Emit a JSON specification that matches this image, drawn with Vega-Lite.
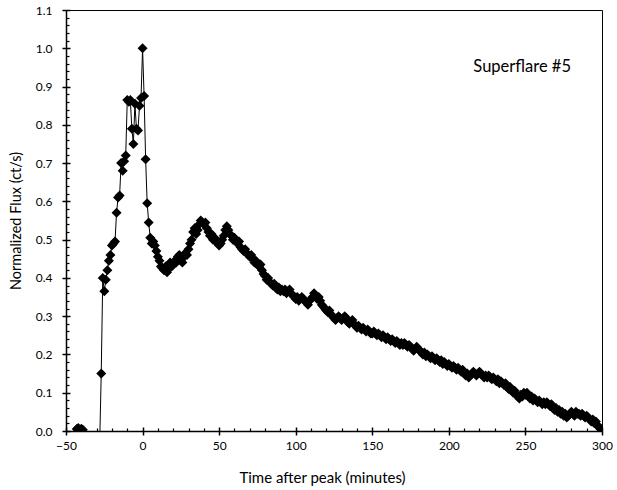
{
"$schema": "https://vega.github.io/schema/vega-lite/v6.json",
"width": 536, "height": 421,
"autosize": {"type": "none"},
"padding": {"left": 66, "top": 10, "right": 15, "bottom": 59},
"background": "white",
"config": {"view": {"stroke": "black", "strokeWidth": 1}, "font": "Lato"},
"datasets": {
"flux": [
{"t":-43,"f":0.005},{"t":-42,"f":0.008},{"t":-41,"f":0.0},{"t":-40,"f":0.006},{"t":-39,"f":0.003},
{"t":-38,"f":-0.02},{"t":-35,"f":-0.03},{"t":-31,"f":-0.02},{"t":-28,"f":-0.03},
{"t":-27,"f":0.15},{"t":-26,"f":0.40},{"t":-25,"f":0.365},{"t":-24,"f":0.395},{"t":-23,"f":0.42},{"t":-22,"f":0.445},{"t":-21,"f":0.46},{"t":-20,"f":0.485},{"t":-19,"f":0.49},{"t":-18,"f":0.495},{"t":-17,"f":0.57},{"t":-16,"f":0.61},{"t":-15,"f":0.615},{"t":-14,"f":0.70},{"t":-13,"f":0.68},{"t":-12,"f":0.705},{"t":-11,"f":0.72},{"t":-10,"f":0.865},{"t":-9,"f":0.86},{"t":-8,"f":0.865},{"t":-7,"f":0.79},{"t":-6,"f":0.75},{"t":-5,"f":0.855},{"t":-4,"f":0.79},{"t":-3,"f":0.785},{"t":-2,"f":0.85},{"t":-1,"f":0.87},{"t":0,"f":1.0},{"t":1,"f":0.875},{"t":2,"f":0.71},{"t":3,"f":0.595},{"t":4,"f":0.545},
{"t":5,"f":0.505},{"t":6,"f":0.49},{"t":7,"f":0.495},{"t":8,"f":0.485},{"t":9,"f":0.47},{"t":10,"f":0.455},{"t":11,"f":0.445},{"t":12,"f":0.43},{"t":13,"f":0.425},{"t":14,"f":0.42},{"t":15,"f":0.43},{"t":16,"f":0.415},{"t":17,"f":0.425},{"t":18,"f":0.44},{"t":19,"f":0.43},{"t":20,"f":0.435},{"t":21,"f":0.445},{"t":22,"f":0.44},{"t":23,"f":0.455},{"t":24,"f":0.46},{"t":25,"f":0.445},{"t":26,"f":0.44},{"t":27,"f":0.455},{"t":28,"f":0.465},{"t":29,"f":0.46},{"t":30,"f":0.475},
{"t":31,"f":0.49},{"t":32,"f":0.50},{"t":33,"f":0.52},{"t":34,"f":0.53},{"t":35,"f":0.515},{"t":36,"f":0.525},{"t":37,"f":0.54},{"t":38,"f":0.55},{"t":39,"f":0.545},{"t":40,"f":0.54},{"t":41,"f":0.545},{"t":42,"f":0.53},{"t":43,"f":0.52},{"t":44,"f":0.51},{"t":45,"f":0.515},{"t":46,"f":0.50},{"t":47,"f":0.505},{"t":48,"f":0.495},{"t":49,"f":0.49},{"t":50,"f":0.485},
{"t":51,"f":0.49},{"t":52,"f":0.50},{"t":53,"f":0.51},{"t":54,"f":0.525},{"t":55,"f":0.535},{"t":56,"f":0.525},{"t":57,"f":0.515},{"t":58,"f":0.51},{"t":59,"f":0.50},{"t":60,"f":0.505},{"t":61,"f":0.495},{"t":62,"f":0.49},{"t":63,"f":0.495},{"t":64,"f":0.48},{"t":65,"f":0.475},{"t":66,"f":0.47},{"t":67,"f":0.475},{"t":68,"f":0.465},{"t":69,"f":0.46},{"t":70,"f":0.455},
{"t":71,"f":0.46},{"t":72,"f":0.45},{"t":73,"f":0.44},{"t":74,"f":0.445},{"t":75,"f":0.435},{"t":76,"f":0.43},{"t":77,"f":0.435},{"t":78,"f":0.42},{"t":79,"f":0.41},{"t":80,"f":0.405},{"t":81,"f":0.395},{"t":82,"f":0.40},{"t":83,"f":0.39},{"t":84,"f":0.385},{"t":85,"f":0.38},{"t":86,"f":0.385},{"t":87,"f":0.375},{"t":88,"f":0.37},{"t":89,"f":0.375},{"t":90,"f":0.365},
{"t":91,"f":0.37},{"t":92,"f":0.365},{"t":93,"f":0.37},{"t":94,"f":0.36},{"t":95,"f":0.365},{"t":96,"f":0.37},{"t":97,"f":0.36},{"t":98,"f":0.355},{"t":99,"f":0.35},{"t":100,"f":0.345},{"t":101,"f":0.35},{"t":102,"f":0.34},{"t":103,"f":0.345},{"t":104,"f":0.35},{"t":105,"f":0.345},{"t":106,"f":0.34},{"t":107,"f":0.335},{"t":108,"f":0.33},{"t":109,"f":0.34},{"t":110,"f":0.345},
{"t":111,"f":0.35},{"t":112,"f":0.36},{"t":113,"f":0.355},{"t":114,"f":0.345},{"t":115,"f":0.35},{"t":116,"f":0.34},{"t":117,"f":0.33},{"t":118,"f":0.325},{"t":119,"f":0.32},{"t":120,"f":0.315},{"t":121,"f":0.31},{"t":122,"f":0.315},{"t":123,"f":0.305},{"t":124,"f":0.30},{"t":125,"f":0.295},{"t":126,"f":0.29},{"t":127,"f":0.295},{"t":128,"f":0.30},{"t":129,"f":0.295},{"t":130,"f":0.29},
{"t":131,"f":0.295},{"t":132,"f":0.30},{"t":133,"f":0.295},{"t":134,"f":0.285},{"t":135,"f":0.28},{"t":136,"f":0.285},{"t":137,"f":0.29},{"t":138,"f":0.28},{"t":139,"f":0.275},{"t":140,"f":0.27},{"t":141,"f":0.275},{"t":142,"f":0.27},{"t":143,"f":0.265},{"t":144,"f":0.27},{"t":145,"f":0.265},{"t":146,"f":0.26},{"t":147,"f":0.265},{"t":148,"f":0.26},{"t":149,"f":0.255},{"t":150,"f":0.255},
{"t":151,"f":0.26},{"t":152,"f":0.255},{"t":153,"f":0.25},{"t":154,"f":0.255},{"t":155,"f":0.25},{"t":156,"f":0.245},{"t":157,"f":0.25},{"t":158,"f":0.245},{"t":159,"f":0.24},{"t":160,"f":0.245},{"t":161,"f":0.24},{"t":162,"f":0.235},{"t":163,"f":0.24},{"t":164,"f":0.235},{"t":165,"f":0.23},{"t":166,"f":0.235},{"t":167,"f":0.23},{"t":168,"f":0.225},{"t":169,"f":0.23},{"t":170,"f":0.225},
{"t":171,"f":0.23},{"t":172,"f":0.225},{"t":173,"f":0.22},{"t":174,"f":0.225},{"t":175,"f":0.22},{"t":176,"f":0.215},{"t":177,"f":0.21},{"t":178,"f":0.215},{"t":179,"f":0.22},{"t":180,"f":0.215},{"t":181,"f":0.21},{"t":182,"f":0.205},{"t":183,"f":0.20},{"t":184,"f":0.205},{"t":185,"f":0.195},{"t":186,"f":0.20},{"t":187,"f":0.195},{"t":188,"f":0.19},{"t":189,"f":0.195},{"t":190,"f":0.19},
{"t":191,"f":0.185},{"t":192,"f":0.19},{"t":193,"f":0.185},{"t":194,"f":0.18},{"t":195,"f":0.185},{"t":196,"f":0.175},{"t":197,"f":0.18},{"t":198,"f":0.175},{"t":199,"f":0.17},{"t":200,"f":0.175},{"t":201,"f":0.17},{"t":202,"f":0.165},{"t":203,"f":0.17},{"t":204,"f":0.165},{"t":205,"f":0.16},{"t":206,"f":0.165},{"t":207,"f":0.16},{"t":208,"f":0.155},{"t":209,"f":0.16},{"t":210,"f":0.15},
{"t":211,"f":0.145},{"t":212,"f":0.15},{"t":213,"f":0.14},{"t":214,"f":0.145},{"t":215,"f":0.15},{"t":216,"f":0.155},{"t":217,"f":0.15},{"t":218,"f":0.145},{"t":219,"f":0.15},{"t":220,"f":0.155},{"t":221,"f":0.15},{"t":222,"f":0.145},{"t":223,"f":0.14},{"t":224,"f":0.145},{"t":225,"f":0.14},{"t":226,"f":0.145},{"t":227,"f":0.14},{"t":228,"f":0.135},{"t":229,"f":0.14},{"t":230,"f":0.135},
{"t":231,"f":0.13},{"t":232,"f":0.135},{"t":233,"f":0.125},{"t":234,"f":0.13},{"t":235,"f":0.125},{"t":236,"f":0.12},{"t":237,"f":0.125},{"t":238,"f":0.115},{"t":239,"f":0.11},{"t":240,"f":0.115},{"t":241,"f":0.105},{"t":242,"f":0.10},{"t":243,"f":0.105},{"t":244,"f":0.095},{"t":245,"f":0.09},{"t":246,"f":0.085},{"t":247,"f":0.095},{"t":248,"f":0.09},{"t":249,"f":0.10},{"t":250,"f":0.095},
{"t":251,"f":0.10},{"t":252,"f":0.09},{"t":253,"f":0.085},{"t":254,"f":0.09},{"t":255,"f":0.08},{"t":256,"f":0.085},{"t":257,"f":0.08},{"t":258,"f":0.075},{"t":259,"f":0.08},{"t":260,"f":0.075},{"t":261,"f":0.07},{"t":262,"f":0.075},{"t":263,"f":0.07},{"t":264,"f":0.075},{"t":265,"f":0.07},{"t":266,"f":0.065},{"t":267,"f":0.07},{"t":268,"f":0.06},{"t":269,"f":0.055},{"t":270,"f":0.06},
{"t":271,"f":0.05},{"t":272,"f":0.055},{"t":273,"f":0.045},{"t":274,"f":0.05},{"t":275,"f":0.04},{"t":276,"f":0.045},{"t":277,"f":0.035},{"t":278,"f":0.04},{"t":279,"f":0.045},{"t":280,"f":0.05},{"t":281,"f":0.045},{"t":282,"f":0.04},{"t":283,"f":0.05},{"t":284,"f":0.045},{"t":285,"f":0.045},{"t":286,"f":0.04},{"t":287,"f":0.045},{"t":288,"f":0.04},{"t":289,"f":0.035},{"t":290,"f":0.04},
{"t":291,"f":0.035},{"t":292,"f":0.03},{"t":293,"f":0.025},{"t":294,"f":0.03},{"t":295,"f":0.02},{"t":296,"f":0.025},{"t":297,"f":0.015},{"t":298,"f":0.01},{"t":299,"f":0.005}
],
"note": [{"t": 216, "f": 0.95, "label": "Superflare #5"}]
},
"layer": [
{
"data": {"name": "flux"},
"mark": {"type": "line", "color": "black", "strokeWidth": 1, "clip": true},
"encoding": {
"x": {"field": "t", "type": "quantitative", "scale": {"domain": [-50, 300], "nice": false, "zero": false},
"axis": {"orient": "bottom", "values": [-50,0,50,100,150,200,250,300], "format": "d", "title": "Time after peak (minutes)", "titleX": 256, "grid": false, "domainColor": "black", "domainWidth": 1.5, "tickColor": "black", "tickWidth": 1.5, "tickSize": 4, "labelPadding": 5, "labelFlush": false, "labelOverlap": false, "labelFont": "Lato", "labelFontSize": 12, "labelColor": "black", "titleFont": "Lato", "titleFontSize": 15, "titleFontWeight": "normal", "titleColor": "black", "titlePadding": 19}},
"y": {"field": "f", "type": "quantitative", "scale": {"domain": [0, 1.1], "nice": false, "zero": false},
"axis": {"orient": "left", "values": [0,0.1,0.2,0.3,0.4,0.5,0.6,0.7,0.8,0.9,1.0,1.1], "format": ".1f", "title": "Normalized Flux (ct/s)", "grid": false, "domainColor": "black", "domainWidth": 1.5, "tickColor": "black", "tickWidth": 1.5, "tickSize": 4, "labelPadding": 10, "labelFlush": false, "labelOverlap": false, "labelFont": "Lato", "labelFontSize": 12, "labelColor": "black", "titleFont": "Lato", "titleFontSize": 14.5, "titleFontWeight": "normal", "titleColor": "black", "titlePadding": 12}}
}
},
{
"data": {"name": "flux"},
"mark": {"type": "point", "shape": "diamond", "filled": true, "color": "black", "opacity": 1, "size": 100, "clip": true},
"encoding": {
"x": {"field": "t", "type": "quantitative",
"axis": {"orient": "bottom", "values": [-50,0,50,100,150,200,250,300], "labels": false, "domain": false, "title": null, "grid": false, "tickColor": "black", "tickWidth": 1.5, "tickSize": -4}},
"y": {"field": "f", "type": "quantitative",
"axis": {"orient": "left", "values": [0,0.1,0.2,0.3,0.4,0.5,0.6,0.7,0.8,0.9,1.0,1.1], "labels": false, "domain": false, "title": null, "grid": false, "tickColor": "black", "tickWidth": 1.5, "tickSize": -4}}
}
},
{
"data": {"name": "note"},
"mark": {"type": "text", "align": "left", "baseline": "middle", "font": "Lato", "fontSize": 16.5, "color": "black"},
"encoding": {
"x": {"field": "t", "type": "quantitative",
"axis": {"orient": "bottom", "values": [-40,-30,-20,-10,10,20,30,40,60,70,80,90,110,120,130,140,160,170,180,190,210,220,230,240,260,270,280,290], "labels": false, "domain": false, "title": null, "grid": false, "tickColor": "black", "tickWidth": 1.2, "tickSize": -3}},
"y": {"field": "f", "type": "quantitative",
"axis": {"orient": "left", "values": [0.02,0.04,0.06,0.08,0.12,0.14,0.16,0.18,0.22,0.24,0.26,0.28,0.32,0.34,0.36,0.38,0.42,0.44,0.46,0.48,0.52,0.54,0.56,0.58,0.62,0.64,0.66,0.68,0.72,0.74,0.76,0.78,0.82,0.84,0.86,0.88,0.92,0.94,0.96,0.98,1.02,1.04,1.06,1.08], "labels": false, "domain": false, "title": null, "grid": false, "tickColor": "black", "tickWidth": 1.2, "tickSize": -3}},
"text": {"field": "label"}
}
}
],
"resolve": {"axis": {"x": "independent", "y": "independent"}}
}
